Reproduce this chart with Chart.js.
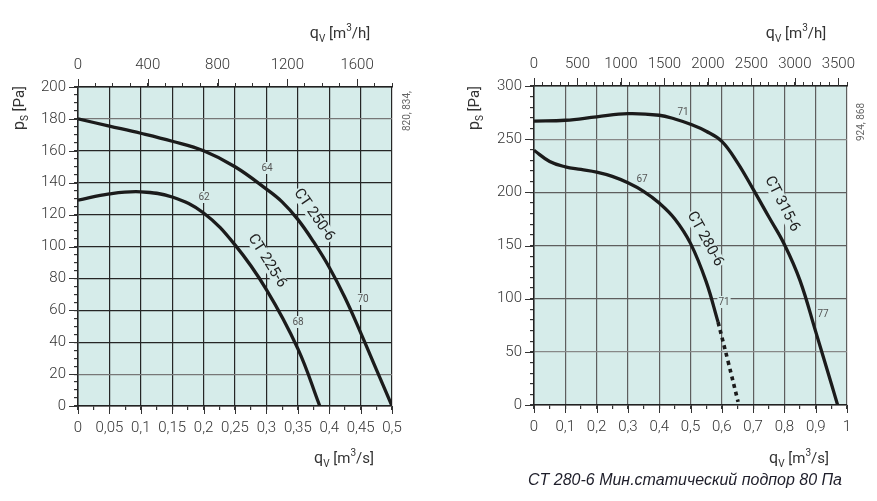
<!DOCTYPE html>
<html>
<head>
<meta charset="utf-8">
<script src="https://cdn.jsdelivr.net/npm/chart.js@4"></script>
<style>
  body { margin: 0; background: #fff; }
  #wrap { position: relative; width: 877px; height: 501px; }
  canvas { position: absolute; top: 0; }
</style>
</head>
<body>
<div id="wrap">
  <canvas id="chartL" width="440" height="501" style="left:0px"></canvas>
  <canvas id="chartR" width="437" height="501" style="left:440px"></canvas>
</div>
<script>
// --- data (q in m3/s, p in Pa) ---
var q250 = [0, 0.05, 0.1, 0.15, 0.2, 0.25, 0.3, 0.325, 0.35, 0.375, 0.4, 0.425, 0.45, 0.475, 0.5];
var p250 = [180, 175.5, 171, 166, 160, 150, 136, 128, 117, 103, 87, 68, 46, 23, 0];
var q225 = [0, 0.05, 0.1, 0.15, 0.2, 0.25, 0.3, 0.35, 0.385];
var p225 = [129, 133, 134.3, 131, 121, 101, 73, 36, 0];

var q315 = [0, 0.1, 0.2, 0.3, 0.4, 0.45, 0.5, 0.55, 0.6, 0.65, 0.7, 0.75, 0.8, 0.85, 0.9, 0.95, 0.97];
var p315 = [267, 267.8, 271, 274, 272.5, 269, 264, 257.5, 248, 228, 203, 177, 151, 117, 69, 20, 0];
var q280 = [0, 0.05, 0.1, 0.15, 0.2, 0.25, 0.3, 0.35, 0.4, 0.45, 0.5, 0.55, 0.588];
var p280 = [239.5, 229, 224, 221.5, 219, 215, 209, 201, 190, 175, 152, 116, 78];
var q280dash = [0.588, 0.62, 0.652];
var p280dash = [78, 41, 3];

// tick labels
var left_x_labels = ['0', '0,05', '0,1', '0,15', '0,2', '0,25', '0,3', '0,35', '0,4', '0,45', '0,5'];
var left_x_vals = [0, 0.05, 0.1, 0.15, 0.2, 0.25, 0.3, 0.35, 0.4, 0.45, 0.5];
var left_top_vals = [0, 400, 800, 1200, 1600];
var left_y_vals = [0, 20, 40, 60, 80, 100, 120, 140, 160, 180, 200];
var right_x_labels = ['0', '0,1', '0,2', '0,3', '0,4', '0,5', '0,6', '0,7', '0,8', '0,9', '1'];
var right_x_vals = [0, 0.1, 0.2, 0.3, 0.4, 0.5, 0.6, 0.7, 0.8, 0.9, 1];
var right_top_vals = [0, 500, 1000, 1500, 2000, 2500, 3000, 3500];
var right_y_vals = [0, 50, 100, 150, 200, 250, 300];

var BG = '#d6ecea';
var TXT = '#333';
var TICKFONT = { family: 'Roboto', size: 15, weight: '300' };

// extra drawing info per chart (kept out of chart options)
var extras = {};

function toXY(qs, ps) {
  var out = [];
  for (var i = 0; i < qs.length; i++) out.push({ x: qs[i], y: ps[i] });
  return out;
}

function findVal(vals, v) {
  for (var i = 0; i < vals.length; i++) {
    if (Math.abs(vals[i] - v) < 1e-6) return i;
  }
  return -1;
}

// draw text made of pieces (for sub/superscripts)
function richText(ctx, x, y, parts) {
  var w = 0;
  for (var i = 0; i < parts.length; i++) {
    ctx.font = parts[i].size + 'px Roboto';
    w += ctx.measureText(parts[i].t).width;
  }
  var cx = x - w / 2;
  ctx.textBaseline = 'alphabetic';
  ctx.textAlign = 'left';
  for (var i = 0; i < parts.length; i++) {
    ctx.font = parts[i].size + 'px Roboto';
    ctx.fillText(parts[i].t, cx, y + (parts[i].dy || 0));
    cx += ctx.measureText(parts[i].t).width;
  }
}

function qTitle(unit) {
  return [{ t: 'q', size: 16 }, { t: 'V', size: 10, dy: 4 }, { t: ' [m', size: 15 },
          { t: '3', size: 10, dy: -7 }, { t: '/' + unit + ']', size: 15 }];
}
var pTitle = [{ t: 'p', size: 16 }, { t: 'S', size: 10, dy: 4 }, { t: ' [Pa]', size: 15 }];

function smallLabel(ctx, txt, x, y) {
  ctx.font = '10px Roboto';
  var w = ctx.measureText(txt).width;
  ctx.fillStyle = BG;
  ctx.fillRect(x - w / 2 - 1, y - 6, w + 2, 12);
  ctx.fillStyle = '#555';
  ctx.textAlign = 'center';
  ctx.textBaseline = 'middle';
  ctx.fillText(txt, x, y);
}

// rotated text, with optional box in the background colour (hides grid lines)
function rotLabel(ctx, txt, x, y, deg, font, color, mask) {
  ctx.save();
  ctx.translate(x, y);
  ctx.rotate(deg * Math.PI / 180);
  ctx.font = font;
  if (mask) {
    var w = ctx.measureText(txt).width;
    ctx.fillStyle = BG;
    ctx.fillRect(-w / 2 - 1, -7, w + 2, 14);
  }
  ctx.fillStyle = color;
  ctx.textAlign = 'center';
  ctx.textBaseline = 'middle';
  ctx.fillText(txt, 0, 0);
  ctx.restore();
}

// background of plot area, labels under the curves, longer major ticks + texts
var bgPlugin = {
  id: 'bg',
  beforeDraw: function(chart) {
    var a = chart.chartArea, ctx = chart.ctx;
    ctx.save();
    ctx.fillStyle = BG;
    ctx.fillRect(a.left, a.top, a.right - a.left, a.bottom - a.top);
    ctx.restore();
  },
  beforeDatasetsDraw: function(chart) {
    var ctx = chart.ctx;
    ctx.save();
    extras[chart.canvas.id].labels(ctx);
    ctx.restore();
  },
  afterDraw: function(chart) {
    var ctx = chart.ctx, o = extras[chart.canvas.id];
    ctx.save();
    ctx.strokeStyle = '#333';
    ctx.lineWidth = 1;
    var s, i, p;
    s = chart.scales.x;
    for (i = 0; i < o.xVals.length; i++) {
      p = Math.round(s.getPixelForValue(o.xVals[i])) + 0.5;
      ctx.beginPath(); ctx.moveTo(p, s.top); ctx.lineTo(p, s.top + 8); ctx.stroke();
    }
    s = chart.scales.x2;
    for (i = 0; i < o.topVals.length; i++) {
      p = Math.round(s.getPixelForValue(o.topVals[i])) + 0.5;
      ctx.beginPath(); ctx.moveTo(p, s.bottom); ctx.lineTo(p, s.bottom - 8); ctx.stroke();
    }
    s = chart.scales.y;
    for (i = 0; i < o.yVals.length; i++) {
      p = Math.round(s.getPixelForValue(o.yVals[i])) + 0.5;
      ctx.beginPath(); ctx.moveTo(s.right, p); ctx.lineTo(s.right - 9, p); ctx.stroke();
    }
    ctx.fillStyle = TXT;
    o.text(ctx);
    ctx.restore();
  }
};

function makeChart(id, cfg) {
  extras[id] = cfg;
  var gridX = function(vals, col) {
    return function(c) { return findVal(vals, c.tick.value) >= 0 ? col(c.tick.value) : 'rgba(0,0,0,0)'; };
  };
  var lineDs = function(d, dash) {
    return {
      data: d, borderColor: '#1b1b1b', borderWidth: dash ? 3.6 : 3.3, pointRadius: 0,
      fill: false, tension: 0.4, borderDash: dash ? [4, 4] : [],
      borderCapStyle: 'butt'
    };
  };
  var ds = [];
  for (var i = 0; i < cfg.series.length; i++) ds.push(lineDs(cfg.series[i].d, cfg.series[i].dash));

  return new Chart(document.getElementById(id), {
    type: 'line',
    data: { datasets: ds },
    options: {
      responsive: false,
      animation: false,
      layout: { padding: { left: 0, top: 0, right: cfg.padRight, bottom: 0 } },
      plugins: { legend: { display: false }, tooltip: { enabled: false } },
      scales: {
        x: {
          type: 'linear', position: 'bottom', min: 0, max: cfg.xMax,
          afterFit: function(s) { s.height = cfg.bottomH; },
          ticks: {
            stepSize: cfg.xStep, autoSkip: false, maxRotation: 0, minRotation: 0,
            padding: 9, color: TXT, font: TICKFONT,
            callback: function(v) { var k = findVal(cfg.xVals, v); return k >= 0 ? cfg.xLabels[k] : ''; }
          },
          grid: { color: gridX(cfg.xVals, cfg.gridColX), tickColor: '#333', tickLength: 4, lineWidth: 1.2 },
          border: { color: '#222', width: 1.5 }
        },
        x2: {
          type: 'linear', position: 'top', min: 0, max: cfg.topMax,
          afterFit: function(s) { s.height = cfg.topH; },
          ticks: {
            stepSize: 100, autoSkip: false, maxRotation: 0, minRotation: 0,
            padding: 9, color: TXT, font: TICKFONT,
            callback: function(v) { return findVal(cfg.topVals, v) >= 0 ? String(v) : ''; }
          },
          grid: { drawOnChartArea: false, tickColor: '#333', tickLength: 4 },
          border: { color: '#222', width: 1.5 }
        },
        y: {
          type: 'linear', position: 'left', min: 0, max: cfg.yMax,
          afterFit: function(s) { s.width = cfg.leftW; },
          ticks: {
            stepSize: cfg.yStep, autoSkip: false, padding: 8, color: TXT, font: TICKFONT,
            callback: function(v) { return findVal(cfg.yVals, v) >= 0 ? String(v) : ''; }
          },
          grid: { color: gridX(cfg.yVals, cfg.gridColY), tickColor: '#333', tickLength: 4, lineWidth: 1.2 },
          border: { color: '#222', width: 1.5 }
        }
      }
    },
    plugins: [bgPlugin]
  });
}

// left chart: CT 225-6, CT 250-6
makeChart('chartL', {
  series: [{ d: toXY(q250, p250) }, { d: toXY(q225, p225) }],
  xMax: 0.5, xStep: 0.025, xVals: left_x_vals, xLabels: left_x_labels,
  topMax: 1800, topVals: left_top_vals,
  yMax: 200, yStep: 5, yVals: left_y_vals,
  leftW: 78, topH: 87, bottomH: 95, padRight: 48,
  gridColX: function(v) { return '#262626'; },
  gridColY: function(v) { return (v == 180 || v == 20) ? '#777' : '#262626'; },
  labels: function(ctx) {
    smallLabel(ctx, '64', 267, 168);
    smallLabel(ctx, '62', 204, 197);
    smallLabel(ctx, '70', 363, 299);
    smallLabel(ctx, '68', 298, 322);
    rotLabel(ctx, 'CT 250-6', 314, 215, 55, '15px Roboto', '#222', true);
    rotLabel(ctx, 'CT 225-6', 267, 261, 58, '15px Roboto', '#222', true);
  },
  text: function(ctx) {
    richText(ctx, 340, 38, qTitle('h'));
    richText(ctx, 344, 463, qTitle('s'));
    ctx.save(); ctx.translate(24, 108); ctx.rotate(-Math.PI / 2);
    richText(ctx, 0, 0, pTitle); ctx.restore();
    rotLabel(ctx, '820, 834,', 407, 111, -90, '10px Roboto', '#666');
  }
});

// right chart: CT 280-6, CT 315-6
makeChart('chartR', {
  series: [{ d: toXY(q315, p315) }, { d: toXY(q280, p280) }, { d: toXY(q280dash, p280dash), dash: true }],
  xMax: 1, xStep: 0.05, xVals: right_x_vals, xLabels: right_x_labels,
  topMax: 3600, topVals: right_top_vals,
  yMax: 300, yStep: 10, yVals: right_y_vals,
  leftW: 94, topH: 86, bottomH: 96, padRight: 30,
  gridColX: function(v) { return '#5e5e5e'; },
  gridColY: function(v) { return (v == 250 || v == 50) ? '#888' : '#5e5e5e'; },
  labels: function(ctx) {
    smallLabel(ctx, '71', 243, 112);
    smallLabel(ctx, '67', 202, 179);
    smallLabel(ctx, '71', 284, 302);
    smallLabel(ctx, '77', 383, 314);
    rotLabel(ctx, 'CT 315-6', 342, 204, 63, '15px Roboto', '#222', true);
    rotLabel(ctx, 'CT 280-6', 265, 239, 61, '15px Roboto', '#222', true);
  },
  text: function(ctx) {
    richText(ctx, 356, 38, qTitle('h'));
    richText(ctx, 359, 463, qTitle('s'));
    ctx.save(); ctx.translate(39, 108); ctx.rotate(-Math.PI / 2);
    richText(ctx, 0, 0, pTitle); ctx.restore();
    rotLabel(ctx, '924, 868', 421, 122, -90, '10px Roboto', '#666');
    ctx.font = 'italic 16px "Liberation Sans"';
    ctx.fillStyle = '#1e1e2a';
    ctx.textAlign = 'center';
    ctx.textBaseline = 'middle';
    ctx.fillText('CT 280-6 Мин.статический подпор 80 Па', 245, 481);
  }
});
</script>
</body>
</html>
